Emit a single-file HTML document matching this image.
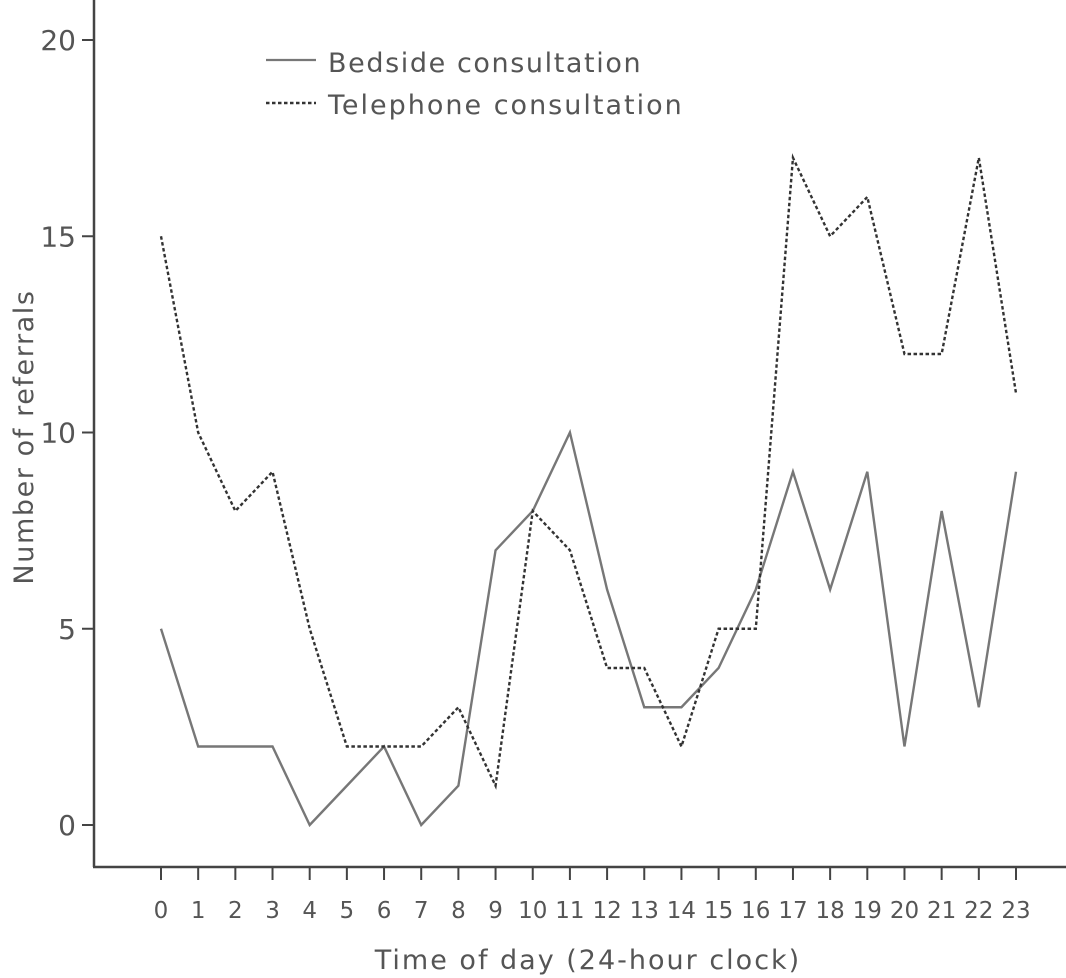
<!DOCTYPE html>
<html><head><meta charset="utf-8"><style>
body{margin:0;background:#fff}
svg{display:block;font-family:"DejaVu Sans","Liberation Sans",sans-serif}
</style></head><body>
<svg id="chart" width="1066" height="978">
<g id="axes"></g>
<g id="series"></g>
<g>
<line x1="266" y1="60" x2="316" y2="60" stroke="#777" stroke-width="2.2"/>
<text x="328" y="72" font-size="27" letter-spacing="1.6" fill="#555">Bedside consultation</text>
<line x1="266" y1="103" x2="316" y2="103" stroke="#333" stroke-width="2.4" stroke-dasharray="3.5,2.5"/>
<text x="328" y="114" font-size="27" letter-spacing="2" fill="#555">Telephone consultation</text>
</g>
<text x="588" y="969" font-size="27" letter-spacing="2" fill="#555" text-anchor="middle">Time of day (24-hour clock)</text>
<text transform="translate(33,437) rotate(-90)" font-size="27" letter-spacing="1.6" fill="#555" text-anchor="middle">Number of referrals</text>
</svg>
<script>
const hours=[0,1,2,3,4,5,6,7,8,9,10,11,12,13,14,15,16,17,18,19,20,21,22,23];
const bedside=[5,2,2,2,0,1,2,0,1,7,8,10,6,3,3,4,6,9,6,9,2,8,3,9];
const telephone=[15,10,8,9,5,2,2,2,3,1,8,7,4,4,2,5,5,17,15,16,12,12,17,11];
const yTicks=[0,5,10,15,20];
const NS="http://www.w3.org/2000/svg";
const xS=h=>161+h*(1016-161)/23;
const yS=v=>825-v*(825-40)/20;
function mk(tag,attrs,parent,text){const e=document.createElementNS(NS,tag);for(const k in attrs)e.setAttribute(k,attrs[k]);if(text!==undefined)e.textContent=text;parent.appendChild(e);return e;}
const ax=document.getElementById('axes');
let yl=mk('line',{x1:94,y1:0,x2:94,y2:867,stroke:'#444','stroke-width':2.5},ax);


let xl=mk('line',{x1:93,y1:867,x2:1066,y2:867,stroke:'#444','stroke-width':2.5},ax);


yTicks.forEach(v=>{
 let t=mk('line',{x1:82,y1:yS(v),x2:94,y2:yS(v),stroke:'#444','stroke-width':2},ax);
 
 
 let l=mk('text',{x:76,y:yS(v)+10,'font-size':28,fill:'#555','text-anchor':'end'},ax,String(v));
 
 
});
hours.forEach(h=>{
 let t=mk('line',{x1:xS(h),y1:868,x2:xS(h),y2:880,stroke:'#444','stroke-width':2},ax);
 
 
 let l=mk('text',{x:xS(h),y:918,'font-size':23,fill:'#555','text-anchor':'middle'},ax,String(h));
 
 
});
const sg=document.getElementById('series');
const pts=a=>a.map((v,i)=>xS(hours[i])+','+yS(v)).join(' ');
let b=mk('polyline',{points:pts(bedside),fill:'none',stroke:'#777','stroke-width':2.4},sg);


let t=mk('polyline',{points:pts(telephone),fill:'none',stroke:'#333','stroke-width':2.4,'stroke-dasharray':'3.5,2.5'},sg);


</script>
</body></html>
